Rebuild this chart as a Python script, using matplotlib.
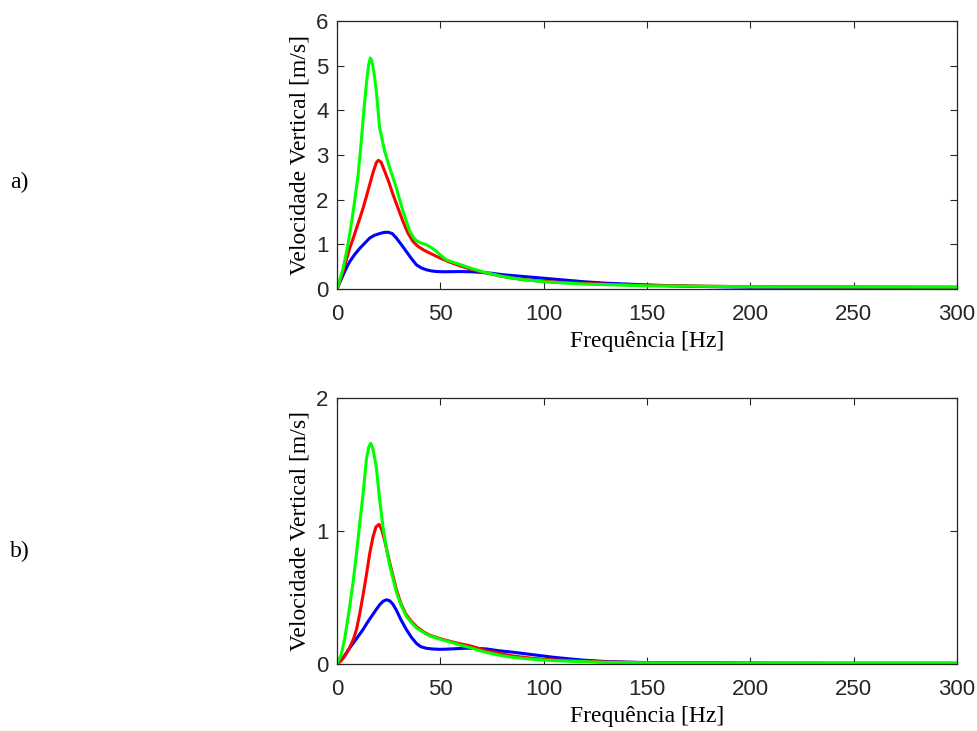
import numpy as np
import matplotlib.pyplot as plt

# panel a)
fa_blue = [0, 1, 2.9, 4.5, 6.1, 8.5, 11, 13.5, 15.8, 18, 20.6, 22.6, 24.7, 26.7, 28.7, 31, 33.5, 36, 38.4, 40.8,
           43.2, 45.5, 48.1, 52, 59.4, 65, 70, 75, 80, 90, 100, 110, 120, 130, 150, 170, 200, 250, 300]
va_blue = [0, 0.11, 0.31, 0.47, 0.61, 0.77, 0.91, 1.03, 1.14, 1.2, 1.24, 1.265, 1.27, 1.24, 1.14, 1.0, 0.84,
           0.68, 0.54, 0.47, 0.43, 0.405, 0.39, 0.385, 0.39, 0.385, 0.37, 0.35, 0.32, 0.28, 0.24, 0.2, 0.16,
           0.13, 0.09, 0.06, 0.04, 0.035, 0.03]

fa_red = [0, 1, 2.9, 4.5, 6.1, 7.8, 9.4, 11, 12.6, 14.2, 15.8, 17.5, 19, 20, 21.3, 23, 25, 27.1, 29.5, 31.9,
          34.3, 36.8, 39, 41.6, 45, 48.1, 51, 54.5, 59.4, 65, 70, 80, 90, 100, 120, 150, 200, 250, 300]
va_red = [0, 0.13, 0.39, 0.65, 0.91, 1.13, 1.36, 1.58, 1.81, 2.07, 2.34, 2.62, 2.83, 2.88, 2.84, 2.64, 2.4,
          2.11, 1.81, 1.51, 1.25, 1.06, 0.96, 0.88, 0.8, 0.73, 0.67, 0.6, 0.52, 0.44, 0.38, 0.28, 0.21, 0.17,
          0.12, 0.08, 0.05, 0.045, 0.04]

fa_green = [0, 1, 2.9, 4.8, 6.6, 8.4, 10.2, 11.7, 13.1, 14.3, 15.3, 16.1, 16.9, 18, 19, 20.6, 23, 25.5, 28.7,
            31.9, 35.2, 37, 38.4, 40.5, 43.2, 45.5, 48.1, 50.5, 52.9, 56, 59.4, 65, 70, 80, 90, 100, 120, 150,
            200, 250, 300]
va_green = [0, 0.15, 0.46, 0.88, 1.36, 1.93, 2.56, 3.3, 4.06, 4.65, 5.02, 5.17, 5.1, 4.8, 4.43, 3.61, 3.09,
            2.71, 2.26, 1.74, 1.29, 1.15, 1.08, 1.03, 0.99, 0.93, 0.84, 0.74, 0.65, 0.6, 0.55, 0.46, 0.39, 0.28,
            0.21, 0.16, 0.11, 0.07, 0.05, 0.045, 0.04]

# panel b)
fb_blue = [0, 2.9, 6.1, 9.4, 12.6, 15, 17.4, 19.2, 20.6, 22.3, 23.9, 25.5, 27, 28.7, 31, 33.5, 36, 38.4, 40.5,
           43.2, 46, 49.7, 54, 57.7, 62, 66, 72.4, 78, 85.3, 92, 98.2, 105, 112.7, 120, 130.5, 150, 200, 250, 300]
vb_blue = [0, 0.045, 0.12, 0.19, 0.26, 0.32, 0.374, 0.415, 0.445, 0.472, 0.483, 0.475, 0.45, 0.405, 0.33,
           0.26, 0.2, 0.155, 0.13, 0.118, 0.113, 0.11, 0.112, 0.115, 0.118, 0.118, 0.113, 0.1, 0.088, 0.075,
           0.063, 0.05, 0.038, 0.028, 0.018, 0.01, 0.006, 0.005, 0.005]

fb_red = [0, 2, 4, 6, 8, 9.4, 11, 12.6, 14.2, 15.8, 17.3, 18.8, 20.3, 21.6, 23, 25.5, 28.7, 31, 33.5, 36, 38.5,
          42, 45, 50, 56, 60, 64, 68, 72, 80, 85, 95, 105, 130, 150, 200, 250, 300]
vb_red = [0, 0.025, 0.065, 0.12, 0.19, 0.26, 0.38, 0.52, 0.67, 0.83, 0.95, 1.03, 1.05, 1.01, 0.93, 0.76, 0.56,
          0.45, 0.37, 0.32, 0.28, 0.24, 0.215, 0.19, 0.165, 0.15, 0.138, 0.12, 0.1, 0.075, 0.06, 0.042, 0.03,
          0.015, 0.01, 0.006, 0.005, 0.005]

fb_green = [0, 2, 3.7, 6, 7.8, 9.4, 11, 12.6, 14.2, 15.3, 16.3, 17.3, 19, 20.5, 22.3, 24, 25.5, 28.7, 31, 33.5,
            36, 38.5, 42, 45, 50, 56, 60, 64, 68, 72, 80, 85, 95, 105, 130, 150, 200, 250, 300]
vb_green = [0, 0.07, 0.19, 0.42, 0.62, 0.83, 1.06, 1.28, 1.54, 1.63, 1.66, 1.62, 1.48, 1.25, 1.02, 0.86, 0.74,
            0.54, 0.44, 0.36, 0.31, 0.27, 0.235, 0.21, 0.185, 0.16, 0.14, 0.125, 0.105, 0.088, 0.062, 0.05,
            0.035, 0.025, 0.012, 0.008, 0.005, 0.004, 0.004]

ax_color = '#262626'
xticks = [0, 50, 100, 150, 200, 250, 300]

fig = plt.figure(figsize=(9.77, 7.31), dpi=100)
ax1 = fig.add_axes([0.345, 0.6047, 0.6345, 0.3666])
ax2 = fig.add_axes([0.345, 0.0917, 0.6345, 0.3638])

panels = [
    (ax1, [(fa_blue, va_blue), (fa_red, va_red), (fa_green, va_green)], 6, [0, 1, 2, 3, 4, 5, 6]),
    (ax2, [(fb_blue, vb_blue), (fb_red, vb_red), (fb_green, vb_green)], 2, [0, 1, 2]),
]
for ax, series, ymax, yticks in panels:
    for (f, v), c in zip(series, ['#0000ff', '#ff0000', '#00ff00']):
        ax.plot(f, v, color=c, lw=2.2, solid_joinstyle='round')
    ax.set_xlim(0, 300)
    ax.set_ylim(0, ymax)
    ax.set_xticks(xticks)
    ax.set_yticks(yticks)
    ax.tick_params(direction='in', top=True, right=True, length=5, width=0.8,
                   colors=ax_color, labelsize=16)
    ax.tick_params(axis='x', pad=10.5)
    ax.tick_params(axis='y', pad=6)
    for lab in ax.get_xticklabels() + ax.get_yticklabels():
        lab.set_family('Liberation Sans')
    for s in ax.spines.values():
        s.set_color(ax_color)
        s.set_linewidth(0.9)
    ax.set_xlabel('Frequência [Hz]', family='Liberation Serif', fontsize=17, labelpad=5)
    ax.set_ylabel('Velocidade Vertical [m/s]', family='Liberation Serif', fontsize=17, labelpad=4)

fig.text(0.010, 0.751, 'a)', family='Liberation Serif', fontsize=17, va='center')
fig.text(0.010, 0.245, 'b)', family='Liberation Serif', fontsize=17, va='center')

fig.savefig('out.png', dpi=100)
